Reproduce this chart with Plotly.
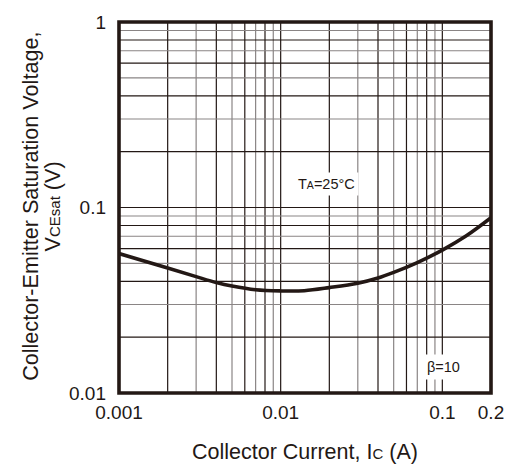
import math
import plotly.graph_objects as go

# Saturation characteristic, Ta = 25 °C, beta = 10
collector_current = [0.001, 0.002, 0.003, 0.004, 0.005, 0.007, 0.01, 0.014,
                     0.02, 0.03, 0.04, 0.05, 0.07, 0.1, 0.14, 0.2]
vce_sat = [0.0565, 0.0472, 0.0424, 0.0394, 0.0377, 0.0360, 0.0355, 0.0356,
           0.0370, 0.0391, 0.0417, 0.0447, 0.0505, 0.0589, 0.0701, 0.088]

x_tick_vals = [0.001, 0.01, 0.1, 0.2]
x_tick_text = ["0.001", "0.01", "0.1", "0.2"]
y_tick_vals = [0.01, 0.1, 1]
y_tick_text = ["0.01", "0.1", "1"]

# log grid: digits 2..9 of each decade plus decade lines
x_grid = [d * 10.0 ** e for e in (-3, -2) for d in range(2, 10)] + [0.01, 0.1]
y_grid = [d * 10.0 ** e for e in (-2, -1) for d in range(2, 10)] + [0.1]

INK = "#231815"
GRAY = "#8a8585"
FONT = "Liberation Sans, Arial, sans-serif"


def grid_color(v):
    digit = round(v / 10 ** math.floor(math.log10(v) + 1e-9))
    return INK if digit in (1, 2, 4, 6, 8) else GRAY


fig = go.Figure()
fig.add_trace(go.Scatter(
    x=collector_current, y=vce_sat, mode="lines",
    line=dict(color=INK, width=3.6, shape="spline", smoothing=1.0),
    hoverinfo="skip", showlegend=False,
))

shapes = []
for v in x_grid:
    shapes.append(dict(type="line", xref="x", yref="paper", x0=v, x1=v, y0=0, y1=1,
                       line=dict(color=grid_color(v), width=1.2), layer="below"))
for v in y_grid:
    shapes.append(dict(type="line", xref="paper", yref="y", x0=0, x1=1, y0=v, y1=v,
                       line=dict(color=grid_color(v), width=1.2), layer="below"))
shapes.append(dict(type="rect", xref="paper", yref="paper", x0=0, x1=1, y0=0, y1=1,
                   line=dict(color=INK, width=3.6), layer="above"))

annotations = [
    dict(text="Collector-Emitter Saturation Voltage,", xref="paper", yref="paper",
         x=-0.238, y=0.503, textangle=-90, showarrow=False,
         font=dict(family=FONT, size=21.6, color=INK), xanchor="center", yanchor="middle"),
    dict(text="V<span style='font-size:15px'>CEsat</span> (V)", xref="paper", yref="paper",
         x=-0.180, y=0.503, textangle=-90, showarrow=False,
         font=dict(family=FONT, size=21.6, color=INK), xanchor="center", yanchor="middle"),
    dict(text="Collector Current, I<span style='font-size:15px'>C</span> (A)",
         xref="paper", yref="paper", x=0.5, y=-0.159, showarrow=False,
         font=dict(family=FONT, size=21.5, color=INK), xanchor="center", yanchor="middle"),
    dict(text="T<span style='font-size:10.5px'>A</span>=25°C", xref="paper", yref="paper",
         x=0.557, y=0.563, showarrow=False, bgcolor="white", borderpad=3,
         font=dict(family=FONT, size=14.5, color=INK), xanchor="center", yanchor="middle"),
    dict(text="β=10", xref="paper", yref="paper",
         x=0.873, y=0.071, showarrow=False, bgcolor="white", borderpad=4,
         font=dict(family=FONT, size=14.5, color=INK), xanchor="center", yanchor="middle"),
]

fig.update_layout(
    width=516, height=465,
    margin=dict(l=119, r=18, t=17, b=72),
    paper_bgcolor="white", plot_bgcolor="white",
    shapes=shapes, annotations=annotations,
    font=dict(family=FONT, size=19, color=INK),
    xaxis=dict(type="log", range=[-3, math.log10(0.2)],
               tickvals=x_tick_vals, ticktext=x_tick_text,
               showgrid=False, zeroline=False, showline=False, ticks="",
               ticklabelstandoff=6),
    yaxis=dict(type="log", range=[-2, 0],
               tickvals=y_tick_vals, ticktext=y_tick_text,
               showgrid=False, zeroline=False, showline=False, ticks="",
               ticklabelstandoff=12),
)

fig.write_html("out.html")
